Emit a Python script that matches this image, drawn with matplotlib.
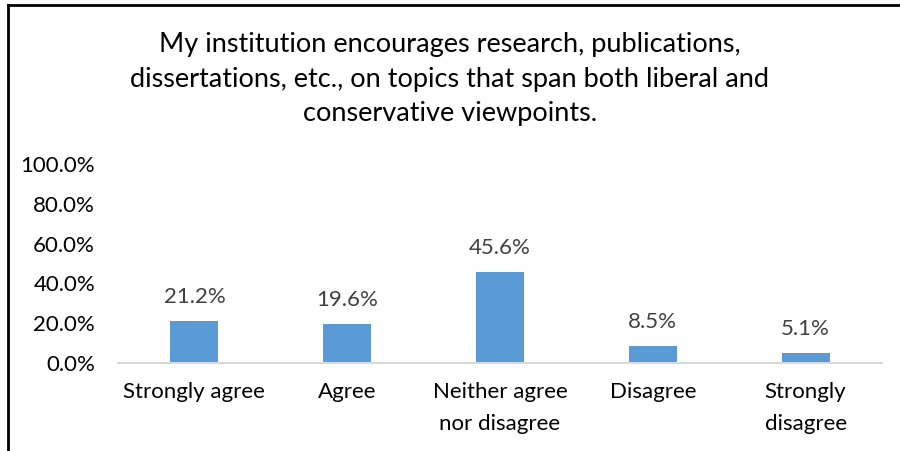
import matplotlib
matplotlib.use("Agg")
import matplotlib.pyplot as plt
from matplotlib.ticker import FuncFormatter
from matplotlib.lines import Line2D

categories = ["Strongly agree", "Agree", "Neither agree\nnor disagree", "Disagree", "Strongly\ndisagree"]
values = [0.212, 0.196, 0.456, 0.085, 0.051]
yticks = [0.0, 0.2, 0.4, 0.6, 0.8, 1.0]
title_lines = ["My institution encourages research, publications,",
               "dissertations, etc., on topics that span both liberal and",
               "conservative viewpoints."]

plt.rcParams['font.family'] = ['Lato', 'DejaVu Sans']

fig = plt.figure(figsize=(9, 4.51), dpi=100)
ax = fig.add_axes([118/900, 1-363/451, (882-118)/900, (363-164)/451])

x = list(range(len(categories)))
ax.bar(x, values, width=0.314, color="#5B9BD5", zorder=2)
for xi, v in zip(x, values):
    ax.text(xi, v + 0.09, f"{v*100:.1f}%", ha="center", va="baseline", fontsize=16, color="#404040")

ax.set_xlim(-0.5, len(categories) - 0.5)
ax.set_ylim(0, 1.0)
ax.set_yticks(yticks)
ax.yaxis.set_major_formatter(FuncFormatter(lambda v, p: f"{v*100:.1f}%"))
ax.set_xticks(x)
ax.set_xticklabels(categories, fontsize=16, linespacing=1.75)
for lab in ax.get_yticklabels():
    lab.set_fontsize(16)
ax.tick_params(axis="both", length=0, colors="black")
ax.tick_params(axis="x", pad=14)
ax.tick_params(axis="y", pad=16.5)
for s in ["top", "right", "left"]:
    ax.spines[s].set_visible(False)
ax.spines["bottom"].set_color("#D9D9D9")
ax.spines["bottom"].set_linewidth(1.5)

for i, (line, base) in enumerate(zip(title_lines, [52, 87, 121])):
    fig.text(0.5, 1-base/451, line, ha="center", va="baseline", fontsize=19.5, color="black")

# partial frame
fig.add_artist(Line2D([7.5/900, 7.5/900], [0, 1-5/451], transform=fig.transFigure, color="black", lw=2))
fig.add_artist(Line2D([7.5/900, 1], [1-5/451, 1-5/451], transform=fig.transFigure, color="black", lw=2))

fig.savefig("out.png", dpi=100)
